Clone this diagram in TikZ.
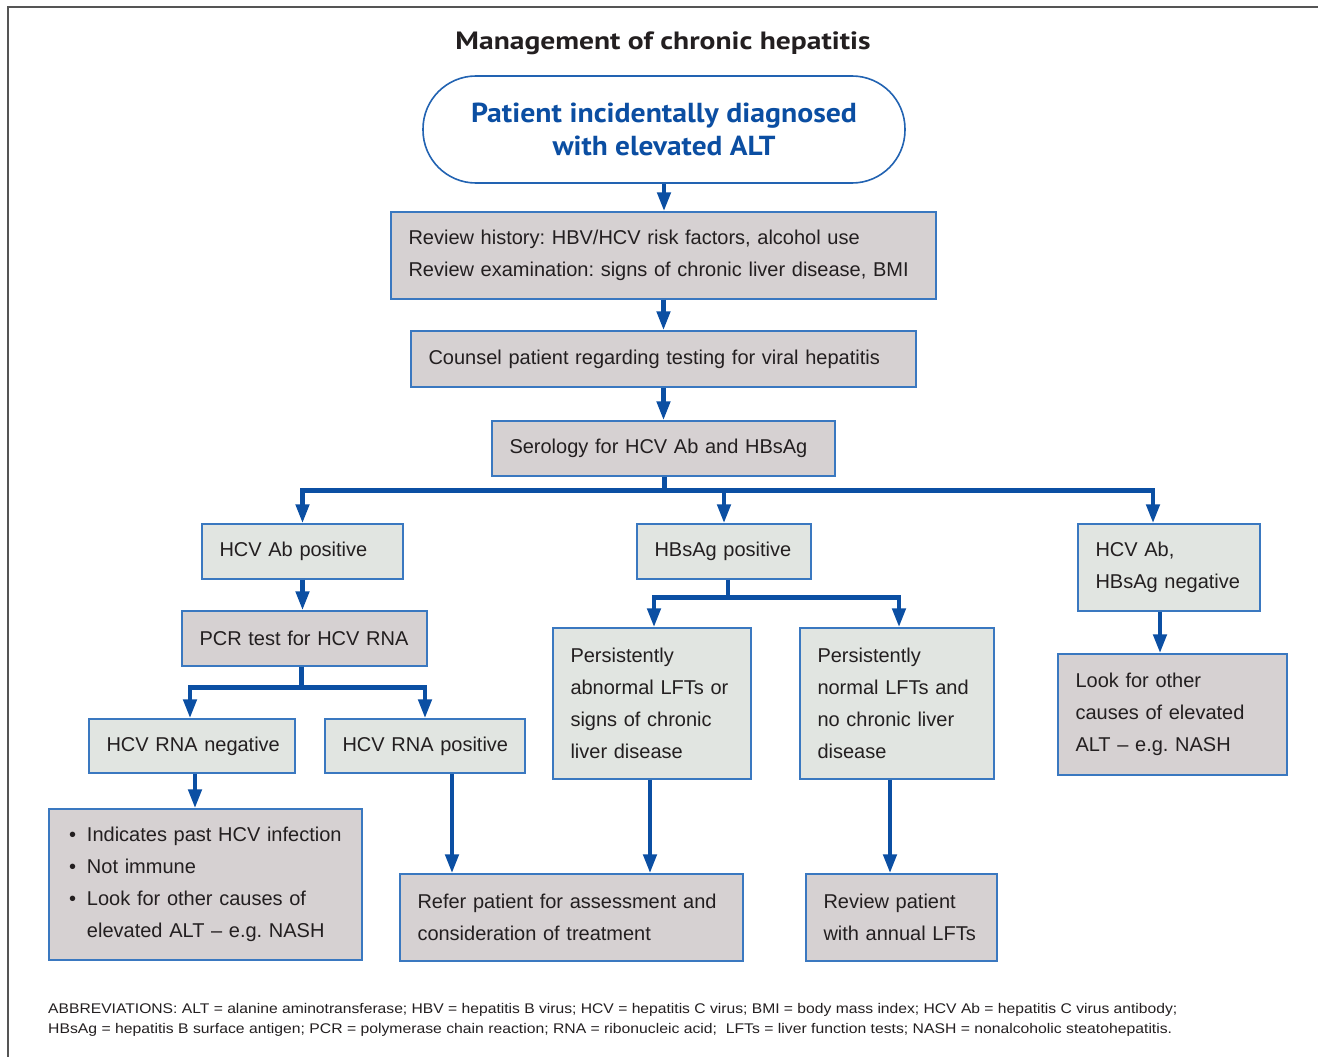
\documentclass[tikz,border=0pt]{standalone}
\usepackage{fontspec}
\usepackage{graphicx}
\setmainfont{Liberation Sans}
\newfontfamily\headfont{PT Sans}
\usetikzlibrary{arrows.meta,calc}
\definecolor{lineblue}{HTML}{0B4FA3}
\definecolor{edgeblue}{HTML}{3A78C0}
\definecolor{stadblue}{HTML}{2263B2}
\definecolor{grayfill}{HTML}{D6D1D2}
\definecolor{greenfill}{HTML}{E1E5E1}
\definecolor{txt}{HTML}{231F20}
\definecolor{headblue}{HTML}{0B4EA2}
\definecolor{framegray}{HTML}{555555}
\frenchspacing
\hyphenpenalty=10000
\exhyphenpenalty=10000
\begin{document}
\begin{tikzpicture}[x=1pt,y=-1pt,
 box/.style={draw=edgeblue,line width=1.4pt,inner xsep=17.5pt,inner ysep=0pt,align=left,text=txt,font=\fontsize{20}{32}\selectfont},
 gbox/.style={box,fill=grayfill},
 lbox/.style={box,fill=greenfill},
 conn/.style={draw=lineblue,line width=4.5pt},
 arr/.style={conn,-{Triangle[length=19pt,width=13pt]}},
]
\useasboundingbox (0,0) rectangle (1318,1057);
\fill[white] (0,0) rectangle (1318,1057);
\draw[framegray,line width=1.3pt] (8,1057) -- (8,7) -- (1318,7);

\node[anchor=base,text=txt,inner sep=0pt] (title) at (663,50)
  {\resizebox{415pt}{\height}{\headfont\bfseries\fontsize{25}{25}\selectfont Management of chronic hepatitis}};

\node[draw=stadblue,line width=1.6pt,rounded corners=53pt,minimum width=482pt,minimum height=107pt,
  align=center,text=headblue,inner sep=0pt,font=\headfont\bfseries\fontsize{27.5}{33}\selectfont] (start) at (664,129.5)
  {\resizebox{386pt}{\height}{Patient incidentally diagnosed}\\\resizebox{223pt}{\height}{with elevated ALT}};

\node[gbox,text width=510pt,minimum height=87pt] (hist) at (663.5,255.5)
  {Review history: HBV/HCV risk factors, alcohol use\\Review examination: signs of chronic liver disease, BMI};
\node[gbox,text width=470pt,minimum height=56pt] (couns) at (663.5,359)
  {Counsel patient regarding testing for viral hepatitis};
\node[gbox,text width=308pt,minimum height=55pt] (sero) at (663.5,448.5)
  {Serology for HCV Ab and HBsAg};
\node[lbox,text width=166pt,minimum height=55pt] (hcvpos) at (302.5,551.5) {HCV Ab positive};
\node[lbox,text width=139pt,minimum height=55pt] (hbspos) at (724,551.5) {\mbox{HBsAg positive}};
\node[lbox,text width=147pt,minimum height=87pt] (neg) at (1169,567.5) {HCV Ab,\\\mbox{HBsAg negative}};
\node[gbox,text width=210pt,minimum height=55pt] (pcr) at (304.5,638.5) {PCR test for HCV RNA};
\node[lbox,text width=171pt,minimum height=54pt] (rnaneg) at (192,746) {\mbox{HCV RNA negative}};
\node[lbox,text width=165pt,minimum height=54pt] (rnapos) at (425,746) {\mbox{HCV RNA positive}};
\node[lbox,text width=163pt,minimum height=151pt] (abn) at (652,703.5)
  {Persistently\\abnormal LFTs or\\signs of chronic\\liver disease};
\node[lbox,text width=159pt,minimum height=151pt] (norm) at (897,703.5)
  {Persistently\\normal LFTs and\\no chronic liver\\disease};
\node[gbox,text width=194pt,minimum height=121pt] (look) at (1172.5,714.5)
  {Look for other\\causes of elevated\\ALT – e.g. NASH};
\node[gbox,text width=278pt,minimum height=151pt] (past) at (205.5,884.5)
  {\hspace*{2.5pt}\makebox[18pt][l]{\textbullet}Indicates past HCV infection\\
   \hspace*{2.5pt}\makebox[18pt][l]{\textbullet}Not immune\\
   \hspace*{2.5pt}\makebox[18pt][l]{\textbullet}Look for other causes of\\
   \hspace*{20.5pt}elevated ALT – e.g. NASH};
\node[gbox,text width=308pt,minimum height=87pt] (refer) at (571.5,917.5)
  {Refer patient for assessment and\\consideration of treatment};
\node[gbox,text width=156pt,minimum height=87pt] (annual) at (901.5,917.5)
  {Review patient\\with annual LFTs};

\node[anchor=base west,inner sep=0pt,text=txt] (abbr1) at (48,1013)
  {\resizebox{1129pt}{\height}{\fontsize{14}{14}\selectfont ABBREVIATIONS: ALT = alanine aminotransferase; HBV = hepatitis B virus; HCV = hepatitis C virus; BMI = body mass index; HCV Ab = hepatitis C virus antibody;}};
\node[anchor=base west,inner sep=0pt,text=txt] (abbr2) at (48,1033)
  {\resizebox{1124pt}{\height}{\fontsize{14}{14}\selectfont HBsAg = hepatitis B surface antigen; PCR = polymerase chain reaction; RNA = ribonucleic acid; \ LFTs = liver function tests; NASH = nonalcoholic steatohepatitis.}};

% connectors
\draw[arr] (start.south) -- (start.south |- hist.north);
\draw[arr] (hist.south) -- (hist.south |- couns.north);
\draw[arr] (couns.south) -- (couns.south |- sero.north);

\coordinate (bus1) at ($(sero.south)+(1,14)$);
\coordinate (negin) at ($(neg.north)+(-16,0)$);
\draw[conn] ($(sero.south)+(1,0)$) -- (bus1);
\draw[arr] (bus1) -| (hcvpos.north);
\draw[arr] (bus1) -| (hbspos.north);
\draw[arr] (bus1) -| (negin);

\draw[arr] (hcvpos.south) -- (hcvpos.south |- pcr.north);

\coordinate (p2) at ($(pcr.south)+(-3,0)$);
\coordinate (bus2) at ($(p2)+(0,21)$);
\draw[conn] (p2) -- (bus2);
\draw[arr] (bus2) -| ($(rnaneg.north)+(-2,0)$);
\draw[arr] (bus2) -| (rnapos.north);

\coordinate (h2) at ($(hbspos.south)+(4,0)$);
\coordinate (bus3) at ($(h2)+(0,18)$);
\draw[conn] (h2) -- (bus3);
\draw[arr] (bus3) -| ($(abn.north)+(2,0)$);
\draw[arr] (bus3) -| ($(norm.north)+(2,0)$);

\coordinate (n2) at ($(neg.south)+(-9,0)$);
\draw[arr] (n2) -- (n2 |- look.north);

\coordinate (r1) at ($(rnaneg.south)+(3,0)$);
\draw[arr] (r1) -- (r1 |- past.north);
\coordinate (r2) at ($(rnapos.south)+(27,0)$);
\draw[arr] (r2) -- (r2 |- refer.north);
\coordinate (a1) at ($(abn.south)+(-2,0)$);
\draw[arr] (a1) -- (a1 |- refer.north);
\coordinate (m1) at ($(norm.south)+(-7,0)$);
\draw[arr] (m1) -- (m1 |- annual.north);
\end{tikzpicture}
\end{document}
